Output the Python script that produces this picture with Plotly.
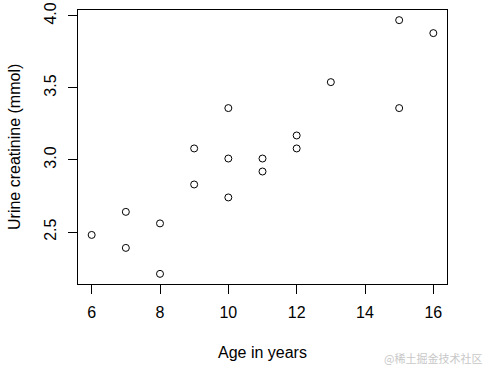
import plotly.graph_objects as go

age = [6, 7, 7, 8, 8, 9, 9, 10, 10, 10, 11, 11, 12, 12, 13, 15, 15, 16]
creatinine = [2.48, 2.64, 2.39, 2.56, 2.21, 3.08, 2.83, 3.36, 3.01, 2.74,
              3.01, 2.92, 3.17, 3.08, 3.54, 3.97, 3.36, 3.88]
x_ticks = [6, 8, 10, 12, 14, 16]
y_ticks = [2.5, 3.0, 3.5, 4.0]
y_tick_labels = ["2.5", "3.0", "3.5", "4.0"]

font = "Liberation Sans, Arial, sans-serif"

fig = go.Figure(go.Scatter(
    x=age, y=creatinine, mode="markers",
    marker=dict(symbol="circle-open", size=7, color="black", line=dict(width=1, color="black")),
    showlegend=False, hoverinfo="x+y"
))

xmin, xmax = min(age), max(age)
ymin, ymax = min(creatinine), max(creatinine)
xr = [xmin - 0.04 * (xmax - xmin), xmax + 0.04 * (xmax - xmin)]
yr = [ymin - 0.04 * (ymax - ymin), ymax + 0.04 * (ymax - ymin)]

fig.update_layout(
    width=487, height=367,
    margin=dict(l=78, r=40, t=10, b=83, autoexpand=False),
    paper_bgcolor="white", plot_bgcolor="white",
    font=dict(family=font, size=16, color="black"),
    xaxis=dict(range=xr, tickvals=x_ticks, showgrid=False, zeroline=False,
               showline=True, linecolor="black", linewidth=1, mirror=True,
               ticks="outside", ticklen=9, tickcolor="black", tickwidth=1,
               ticklabelstandoff=5, tickfont=dict(size=16), automargin=False),
    yaxis=dict(range=yr, tickvals=y_ticks, ticktext=y_tick_labels, showgrid=False, zeroline=False,
               showline=True, linecolor="black", linewidth=1, mirror=True,
               ticks="outside", ticklen=9, tickcolor="black", tickwidth=1,
               tickangle=-90, ticklabelstandoff=6, tickfont=dict(size=16), automargin=False,
               ticklabeloverflow="allow"),
    annotations=[
        dict(text="Age in years", xref="paper", yref="paper", x=0.5, y=0,
             yshift=-68, xanchor="center", yanchor="middle", showarrow=False,
             font=dict(size=16)),
        dict(text="Urine creatinine (mmol)", xref="paper", yref="paper", x=0, y=0.5,
             xshift=-64, textangle=-90, xanchor="center", yanchor="middle", showarrow=False,
             font=dict(size=16)),
        dict(text="@稀土掘金技术社区", xref="paper", yref="paper", x=1, y=0,
             xshift=37, yshift=-74, xanchor="right", yanchor="middle", showarrow=False,
             font=dict(size=11, color="#c8c8c8", family="Noto Sans CJK SC")),
    ],
)

# remove the browser's default 8px page margin so the figure sits at the window origin
fig.write_html("out.html", config={"displayModeBar": False},
               post_script="document.body.style.margin='0px';")
